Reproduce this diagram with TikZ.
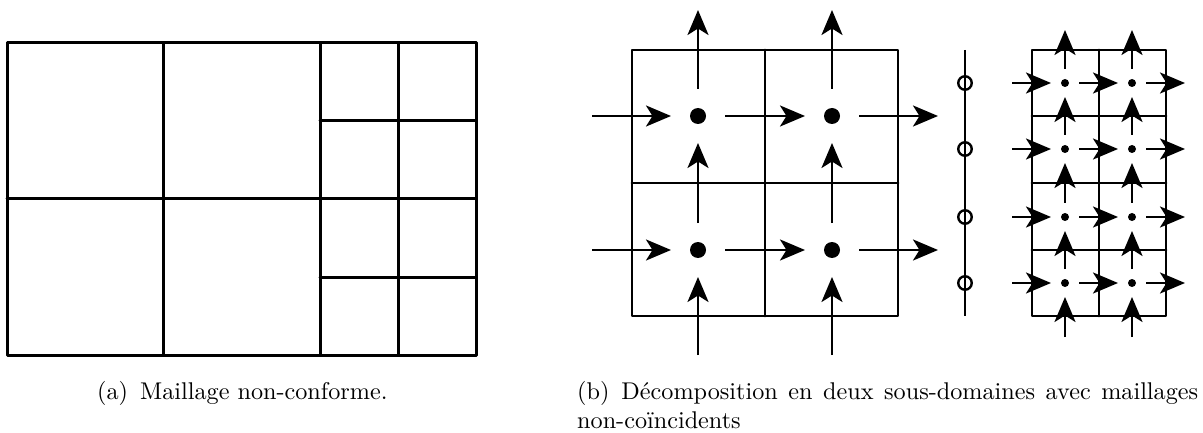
\documentclass[tikz,border=0pt]{standalone}
\usetikzlibrary{arrows.meta}
\font\capf="[lmroman10-regular]:mapping=tex-text" at 24.2pt
\tikzset{
  x=1pt,y=-1pt,
  mesh/.style={line width=3pt,line join=round,line cap=round},
  thinmesh/.style={line width=2.8pt,line join=round,line cap=round},
  flow/.style={line width=2.8pt,-{Stealth[length=25pt,width=21pt,inset=6.5pt]}},
  coarse/.style={flow,shorten <=#1,shorten >=#1},
  dot/.style={circle,fill=black,inner sep=0pt,minimum size=#1},
  ring/.style={circle,draw=black,fill=none,line width=2.4pt,inner sep=0pt,minimum size=13.5pt},
  captext/.style={font=\capf,anchor=base west,inner sep=0pt}
}
\begin{document}
\begin{tikzpicture}
\useasboundingbox (0,0) rectangle (1203,433);
% (a) non-conforming mesh
\draw[mesh] (7,43) rectangle (476,355);
\draw[mesh] (7,199) -- (476,199);
\draw[mesh] (163,43) -- (163,355);
\draw[mesh] (320,43) -- (320,355);
\draw[mesh] (398,43) -- (398,355);
\draw[mesh] (320,121) -- (476,121);
\draw[mesh] (320,277) -- (476,277);
% (b) coarse mesh
\draw[thinmesh] (632,50) rectangle (898,316);
\draw[thinmesh] (765,50) -- (765,316);
\draw[thinmesh] (632,183) -- (898,183);
\node[dot=16pt] (c11) at (698,116) {};
\node[dot=16pt] (c12) at (832,116) {};
\node[dot=16pt] (c21) at (698,250) {};
\node[dot=16pt] (c22) at (832,250) {};
\coordinate (cw1) at (592,116);
\coordinate (cw2) at (592,250);
\coordinate (ce1) at (965,116);
\coordinate (ce2) at (965,250);
\coordinate (cn1) at (698,10);
\coordinate (cn2) at (832,10);
\coordinate (cs1) at (698,355);
\coordinate (cs2) at (832,355);
\tikzset{cin/.style={flow,shorten >=27pt},cout/.style={flow,shorten <=27pt,shorten >=27pt}}
\foreach \r in {1,2}{
  \draw[cin] (cw\r) -- (c\r1.center);
  \draw[coarse=27pt] (c\r1.center) -- (c\r2.center);
  \draw[cout] (c\r2.center) -- (ce\r);
}
\foreach \k in {1,2}{
  \draw[flow,shorten <=27pt] (c1\k.center) -- (cn\k);
  \draw[coarse=27pt] (c2\k.center) -- (c1\k.center);
  \draw[cin] (cs\k) -- (c2\k.center);
}
% interface
\coordinate (it) at (965,50);
\coordinate (ib) at (965,316);
\draw[thinmesh,line cap=butt] (it) -- (ib);
\node[ring] (r1) at (965,83) {};
\node[ring] (r2) at (965,149) {};
\node[ring] (r3) at (965,217) {};
\node[ring] (r4) at (965,283) {};
% fine mesh
\draw[thinmesh] (1032,50) rectangle (1166,316);
\draw[thinmesh] (1099,50) -- (1099,316);
\draw[thinmesh] (1032,116) -- (1166,116);
\draw[thinmesh] (1032,183) -- (1166,183);
\draw[thinmesh] (1032,250) -- (1166,250);
\foreach \r/\yy in {1/83,2/149,3/217,4/283}{
  \node[dot=8pt] (f\r1) at (1065,\yy) {};
  \node[dot=8pt] (f\r2) at (1132,\yy) {};
  \coordinate (fw\r) at (1012,\yy);
  \coordinate (fe\r) at (1199,\yy);
  \draw[flow,shorten >=14pt] (fw\r) -- (f\r1.center);
  \draw[coarse=14pt] (f\r1.center) -- (f\r2.center);
  \draw[coarse=14pt] (f\r2.center) -- (fe\r);
}
\coordinate (fn1) at (1065,16);
\coordinate (fn2) at (1132,16);
\coordinate (fs1) at (1065,351);
\coordinate (fs2) at (1132,351);
\foreach \k in {1,2}{
  \draw[coarse=14pt] (f1\k.center) -- (fn\k);
  \draw[coarse=14pt] (f2\k.center) -- (f1\k.center);
  \draw[coarse=14pt] (f3\k.center) -- (f2\k.center);
  \draw[coarse=14pt] (f4\k.center) -- (f3\k.center);
  \draw[coarse=14pt] (fs\k) -- (f4\k.center);
}
% captions
\node[captext] (capa) at (97,399) {(a)\hspace{12pt}Maillage non-conforme.};
\node[captext] (capb) at (577,399) {\hbox to 621pt{(b)\hspace{12pt}Décomposition en deux sous-domaines avec maillages}};
\node[captext] (capb2) at (577,428) {non-coïncidents};
\end{tikzpicture}
\end{document}
